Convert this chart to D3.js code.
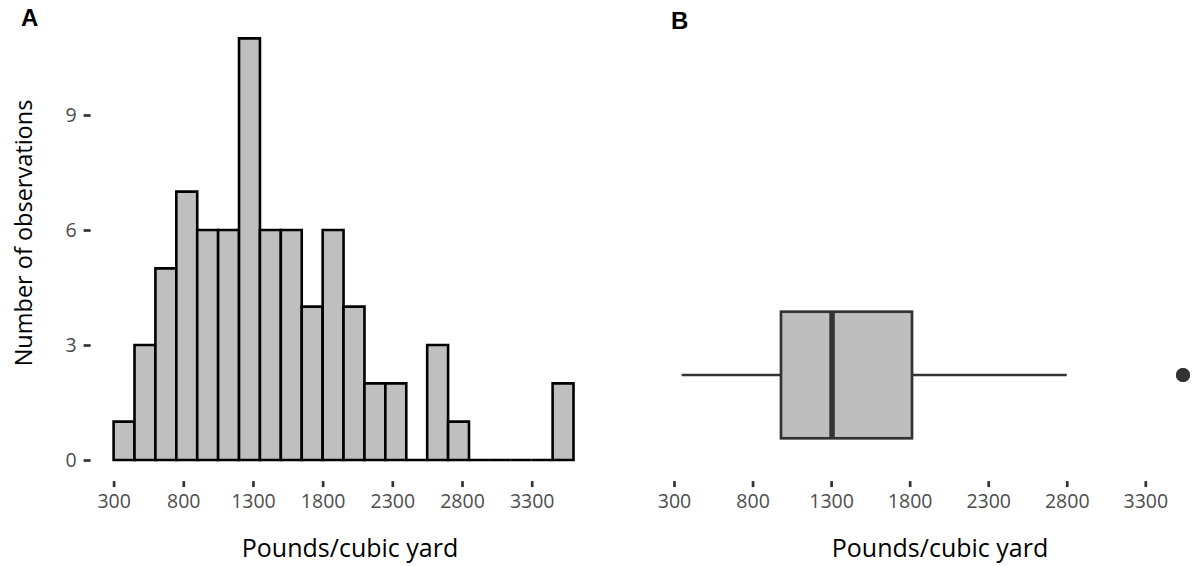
<!DOCTYPE html>
<html>
<head>
<meta charset="utf-8">
<script src="https://cdn.jsdelivr.net/npm/d3@7"></script>
<style>
  html, body { margin: 0; padding: 0; background: #fff; }
  svg { display: block; }
  text { font-family: "Open Sans", "Noto Sans", sans-serif; }
</style>
</head>
<body>
<svg id="chart" width="1193" height="566"></svg>
<script>
// ---------- data ----------
const binStarts = [300, 450, 600, 750, 900, 1050, 1200, 1350, 1500, 1650, 1800,
                   1950, 2100, 2250, 2400, 2550, 2700, 2850, 3000, 3150, 3300, 3450];
const binWidth = 150;
const binCounts = [1, 3, 5, 7, 6, 6, 11, 6, 6, 4, 6, 4, 2, 2, 0, 3, 1, 0, 0, 0, 0, 2];
const xTicks = [300, 800, 1300, 1800, 2300, 2800, 3300];
const yTicks = [0, 3, 6, 9];
const boxStats = { lower: 349, q1: 981, median: 1306, q3: 1815, upper: 2800 };
const outliers = [3540, 3540];
const xTitle = "Pounds/cubic yard";
const yTitle = "Number of observations";
const panelLabels = ["A", "B"];

// ---------- layout ----------
const svg = d3.select("#chart");
const tickCol = "#333333", labCol = "#4d4d4d";

// Panel A scales
const xA = d3.scaleLinear().domain([300, 3300]).range([113.6, 531.7]);
const yA = d3.scaleLinear().domain([0, 9]).range([460, 115]);
const panelA = { left: xA(135), right: xA(3765), bottom: yA(-0.55) };

// Panel B scales
const xB = d3.scaleLinear().domain([300, 3300]).range([674, 1145.3]);
const boxY = 375, boxHalf = 63.3;
const panelBBottom = panelA.bottom;

function styleAxis(g) {
  g.select(".domain").remove();
  g.selectAll(".tick line").attr("stroke", tickCol).attr("stroke-width", 2.7);
  g.selectAll(".tick text").attr("fill", labCol)
    .style("font-family", '"Open Sans", sans-serif').style("font-size", "19.5px");
}

// ---------- Panel A: histogram ----------
const bins = binStarts.map((s, i) => ({ x0: s, x1: s + binWidth, n: binCounts[i] }));
svg.append("g").selectAll("path").data(bins).join("path")
  .attr("d", d => `M${xA(d.x0)},${yA(0)}V${yA(d.n)}H${xA(d.x1)}V${yA(0)}Z`)
  .attr("fill", "#bfbfbf")
  .attr("stroke", "#000")
  .attr("stroke-width", 2.6)
  .attr("stroke-linejoin", "miter");

svg.append("g").attr("transform", `translate(0,${panelA.bottom})`)
  .call(d3.axisBottom(xA).tickValues(xTicks).tickFormat(d3.format("d")).tickSize(6).tickPadding(7.5))
  .call(styleAxis);

svg.append("g").attr("transform", `translate(${panelA.left},0)`)
  .call(d3.axisLeft(yA).tickValues(yTicks).tickFormat(d3.format("d")).tickSize(7).tickPadding(7))
  .call(styleAxis);

svg.append("text").attr("x", 350).attr("y", 557).attr("text-anchor", "middle")
  .attr("fill", "#000").style("font-size", "25px").text(xTitle);

svg.append("text").attr("transform", "translate(32,233) rotate(-90)")
  .attr("text-anchor", "middle").attr("fill", "#000").style("font-size", "23.5px").text(yTitle);

// ---------- Panel B: boxplot ----------
const gB = svg.append("g");
gB.append("line")
  .attr("x1", xB(boxStats.lower)).attr("x2", xB(boxStats.q1))
  .attr("y1", boxY).attr("y2", boxY)
  .attr("stroke", tickCol).attr("stroke-width", 2.7);
gB.append("line")
  .attr("x1", xB(boxStats.q3)).attr("x2", xB(boxStats.upper))
  .attr("y1", boxY).attr("y2", boxY)
  .attr("stroke", tickCol).attr("stroke-width", 2.7);
gB.append("rect")
  .attr("x", xB(boxStats.q1)).attr("y", boxY - boxHalf)
  .attr("width", xB(boxStats.q3) - xB(boxStats.q1)).attr("height", 2 * boxHalf)
  .attr("fill", "#bebebe").attr("stroke", tickCol).attr("stroke-width", 2.7);
gB.append("line")
  .attr("x1", xB(boxStats.median)).attr("x2", xB(boxStats.median))
  .attr("y1", boxY - boxHalf).attr("y2", boxY + boxHalf)
  .attr("stroke", tickCol).attr("stroke-width", 5.5);
gB.selectAll("circle").data(outliers).join("circle")
  .attr("cx", d => xB(d)).attr("cy", boxY).attr("r", 7)
  .attr("fill", tickCol);

svg.append("g").attr("transform", `translate(0,${panelBBottom})`)
  .call(d3.axisBottom(xB).tickValues(xTicks).tickFormat(d3.format("d")).tickSize(6).tickPadding(7.5))
  .call(styleAxis);

svg.append("text").attr("x", 940).attr("y", 557).attr("text-anchor", "middle")
  .attr("fill", "#000").style("font-size", "25px").text(xTitle);

// ---------- panel labels ----------
svg.append("text").attr("x", 21).attr("y", 26)
  .style("font-family", '"Liberation Sans", Arial, sans-serif').style("font-weight", "bold")
  .style("font-size", "24px").attr("fill", "#000").text(panelLabels[0]);
svg.append("text").attr("x", 671).attr("y", 29)
  .style("font-family", '"Liberation Sans", Arial, sans-serif').style("font-weight", "bold")
  .style("font-size", "24px").attr("fill", "#000").text(panelLabels[1]);
</script>
</body>
</html>
